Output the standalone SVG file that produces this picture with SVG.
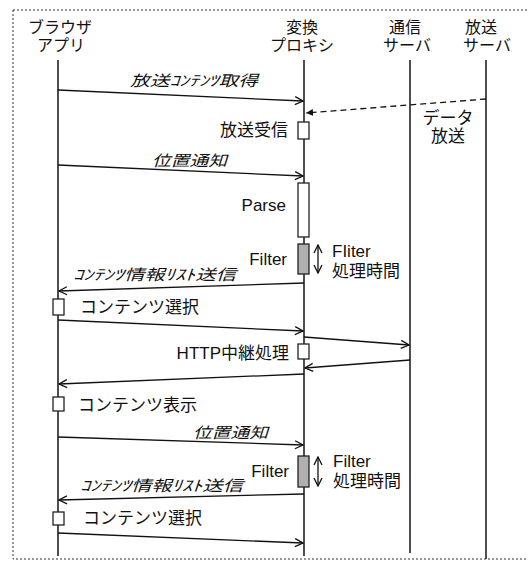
<svg xmlns="http://www.w3.org/2000/svg" width="528" height="561" viewBox="0 0 528 561">
<defs>
<style>
text{font-family:"Liberation Sans","Noto Sans CJK JP",sans-serif;fill:#111;}
.h{font-size:16px;text-anchor:middle;}
.l{font-size:17px;}
.it{font-size:15px;font-style:italic;}
.life{stroke:#222;stroke-width:1.6;fill:none;}
.msg{stroke:#111;stroke-width:1.3;fill:none;marker-end:url(#open);}
.act{fill:#fff;stroke:#222;stroke-width:1.3;}
.actg{fill:#b0b0b0;stroke:#222;stroke-width:1.3;}
</style>
<marker id="open" markerUnits="userSpaceOnUse" markerWidth="10" markerHeight="10" refX="9" refY="5" orient="auto">
<path d="M1,1 L9,5 L1,9" fill="none" stroke="#111" stroke-width="1.3"/>
</marker>
<marker id="openS" markerUnits="userSpaceOnUse" markerWidth="10" markerHeight="10" refX="1" refY="5" orient="auto">
<path d="M9,1 L1,5 L9,9" fill="none" stroke="#111" stroke-width="1.3"/>
</marker>
<marker id="fill" markerUnits="userSpaceOnUse" markerWidth="8" markerHeight="8" refX="7" refY="4" orient="auto">
<path d="M0,0.5 L7,4 L0,7.5 Z" fill="#111"/>
</marker>
</defs>
<rect x="13" y="10" width="540" height="549" fill="none" stroke="#333" stroke-width="1" stroke-dasharray="2,2"/>

<g id="browser">
<text class="h" x="60" y="33">ブラウザ</text>
<text class="h" x="61" y="51">アプリ</text>
<line class="life" x1="58" y1="60" x2="58" y2="556"/>
</g>
<g id="proxy">
<text class="h" x="302" y="33">変換</text>
<text class="h" x="302" y="51">プロキシ</text>
<line class="life" x1="304" y1="60" x2="304" y2="556"/>
</g>
<g id="comm">
<text class="h" x="405" y="33">通信</text>
<text class="h" x="407" y="51">サーバ</text>
<line class="life" x1="410" y1="60" x2="410" y2="553"/>
</g>
<g id="bcast">
<text class="h" x="481" y="33">放送</text>
<text class="h" x="487" y="51">サーバ</text>
<line class="life" x1="486" y1="60" x2="486" y2="559"/>
</g>

<g id="connectors">
<line class="msg" x1="58" y1="90" x2="303" y2="101"/>
<line x1="486" y1="99" x2="306" y2="113" stroke="#111" stroke-width="1.3" stroke-dasharray="6,4" marker-end="url(#fill)"/>
<line class="msg" x1="58" y1="165" x2="303" y2="176"/>
<line class="msg" x1="304" y1="283" x2="59" y2="291"/>
<line class="msg" x1="58" y1="320" x2="303" y2="331"/>
<line class="msg" x1="304" y1="337" x2="409" y2="345"/>
<line class="msg" x1="410" y1="360" x2="305" y2="368"/>
<line class="msg" x1="304" y1="374" x2="59" y2="384"/>
<line class="msg" x1="58" y1="437" x2="303" y2="445"/>
<line class="msg" x1="304" y1="494" x2="59" y2="500"/>
<line class="msg" x1="58" y1="533" x2="303" y2="543"/>
<line x1="318" y1="245" x2="318" y2="273" stroke="#111" stroke-width="1.3" marker-start="url(#openS)" marker-end="url(#open)"/>
<line x1="318" y1="457" x2="318" y2="486" stroke="#111" stroke-width="1.3" marker-start="url(#openS)" marker-end="url(#open)"/>
</g>

<g id="labels">
<text class="it" x="130" y="86" textLength="128" lengthAdjust="spacingAndGlyphs">放送ｺﾝﾃﾝﾂ取得</text>
<text class="l" x="448" y="124" text-anchor="middle">データ</text>
<text class="l" x="448" y="142" text-anchor="middle">放送</text>
<text class="it" x="152" y="166" textLength="75" lengthAdjust="spacingAndGlyphs">位置通知</text>
<text class="it" x="73" y="280" textLength="163" lengthAdjust="spacingAndGlyphs">ｺﾝﾃﾝﾂ情報ﾘｽﾄ送信</text>
<text class="it" x="193" y="438" textLength="75" lengthAdjust="spacingAndGlyphs">位置通知</text>
<text class="it" x="80" y="491" textLength="163" lengthAdjust="spacingAndGlyphs">ｺﾝﾃﾝﾂ情報ﾘｽﾄ送信</text>
</g>

<g id="act-recv">
<rect class="act" x="298" y="122" width="11" height="17"/>
<text class="l" x="288" y="136" text-anchor="end">放送受信</text>
</g>
<g id="act-parse">
<rect class="act" x="298" y="183" width="11" height="54"/>
<text class="l" x="286" y="211" text-anchor="end">Parse</text>
</g>
<g id="act-filter1">
<rect class="actg" x="298" y="244" width="11" height="30"/>
<text class="l" x="287" y="265" text-anchor="end">Filter</text>
<text class="l" x="332" y="257">FIiter</text>
<text class="l" x="332" y="277">処理時間</text>
</g>
<g id="act-select1">
<rect class="act" x="53" y="299" width="11" height="16"/>
<text class="l" x="80" y="313">コンテンツ選択</text>
</g>
<g id="act-http">
<rect class="act" x="298" y="344" width="11" height="15"/>
<text class="l" x="289" y="359" text-anchor="end">HTTP中継処理</text>
</g>
<g id="act-show">
<rect class="act" x="53" y="397" width="11" height="14"/>
<text class="l" x="78" y="411">コンテンツ表示</text>
</g>
<g id="act-filter2">
<rect class="actg" x="298" y="456" width="11" height="31"/>
<text class="l" x="289" y="477" text-anchor="end">Filter</text>
<text class="l" x="333" y="467">Filter</text>
<text class="l" x="333" y="487">処理時間</text>
</g>
<g id="act-select2">
<rect class="act" x="53" y="512" width="11" height="13"/>
<text class="l" x="83" y="524">コンテンツ選択</text>
</g>
</svg>
